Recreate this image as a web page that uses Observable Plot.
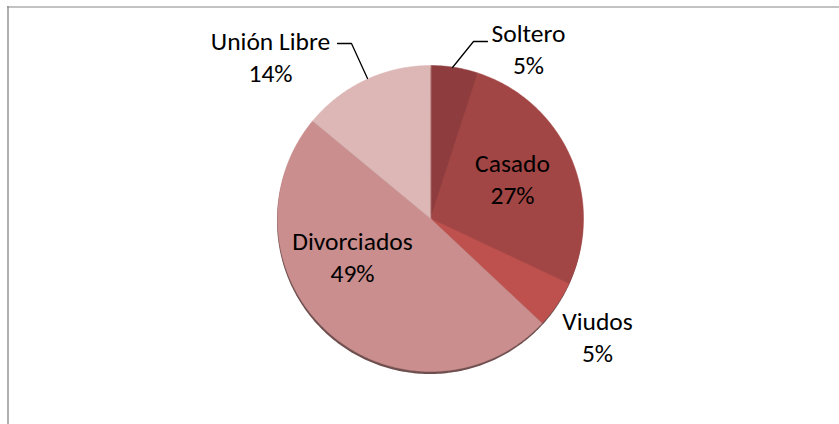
<!DOCTYPE html>
<html>
<head>
<meta charset="utf-8">
<script src="https://cdn.jsdelivr.net/npm/d3@7"></script>
<script src="https://cdn.jsdelivr.net/npm/@observablehq/plot@0.6"></script>
<style>
  html, body { margin: 0; padding: 0; background: #fff; }
  #chart svg { display: block; }
</style>
</head>
<body>
<div id="chart"></div>
<script>
// ---- data ----
const categories = ["Soltero", "Casado", "Viudos", "Divorciados", "Unión Libre"];
const percents = [5, 27, 5, 49, 14];
const labels = ["Soltero\n5%", "Casado\n27%", "Viudos\n5%", "Divorciados\n49%", "Unión Libre\n14%"];

// ---- styles / layout ----
const colors = ["#8e3c3d", "#a24645", "#be514e", "#c98e8d", "#dcb7b6"];
const W = 839, H = 424;
const cx = 430, cy = 218, R = 153;
// label centres (pixel layout)
const labelPos = [[528, 47], [512, 177], [597, 335], [352, 255], [270, 55]];
// leader lines (pixel layout)
const leaders = [
  [[487, 41], [473, 41], [452, 67]],
  null, null, null,
  [[337, 43], [351, 43], [367, 78]]
];

const pie = d3.pie().sort(null).value(d => d)(percents);

// polygons for slices
const slicePts = [];
pie.forEach((p, i) => {
  const a0 = p.startAngle, a1 = p.endAngle;
  const n = Math.max(2, Math.ceil((a1 - a0) / (Math.PI / 360)));
  slicePts.push({cat: categories[i], x: cx, y: cy});
  for (let j = 0; j <= n; j++) {
    const a = a0 + (a1 - a0) * j / n;
    slicePts.push({cat: categories[i], x: cx + R * Math.sin(a), y: cy - R * Math.cos(a)});
  }
});
// shadow circle
const shadowPts = d3.range(0, 361, 1).map(d => {
  const a = d * Math.PI / 180;
  return {x: cx - 0.5 + R * Math.sin(a), y: cy + 2.5 - R * Math.cos(a)};
});

const labelData = categories.map((c, i) => ({cat: c, text: labels[i], x: labelPos[i][0], y: labelPos[i][1]}));
const leaderData = [];
leaders.forEach((l, i) => { if (l) l.forEach(([x, y]) => leaderData.push({cat: categories[i], x, y})); });

const chart = Plot.plot({
  width: W, height: H,
  margin: 0,
  x: {domain: [0, W], range: [0, W], axis: null},
  y: {domain: [0, H], range: [0, H], axis: null},
  color: {domain: categories, range: colors},
  style: {fontFamily: "Carlito, Calibri, Lato, sans-serif", background: "#fff"},
  marks: [
    Plot.ruleX([7.5], {y1: 6, y2: H, stroke: "#868686", strokeWidth: 1.3}),
    Plot.ruleY([6.5], {x1: 7, x2: W, stroke: "#868686", strokeWidth: 1.2}),
    Plot.line(shadowPts, {x: "x", y: "y", fill: "#5e3b3b", stroke: "none", curve: "linear-closed", opacity: 0.9}),
    Plot.line(slicePts, {x: "x", y: "y", z: "cat", fill: "cat", stroke: "cat", strokeWidth: 0.5, curve: "linear-closed"}),
    Plot.line(leaderData, {x: "x", y: "y", z: "cat", stroke: "#000", strokeWidth: 1.3}),
    Plot.text(labelData, {x: "x", y: "y", text: "text", fontSize: 25.5, lineHeight: 1.27, lineAnchor: "middle", fill: "#000"})
  ]
});
document.getElementById("chart").appendChild(chart);
</script>
</body>
</html>
